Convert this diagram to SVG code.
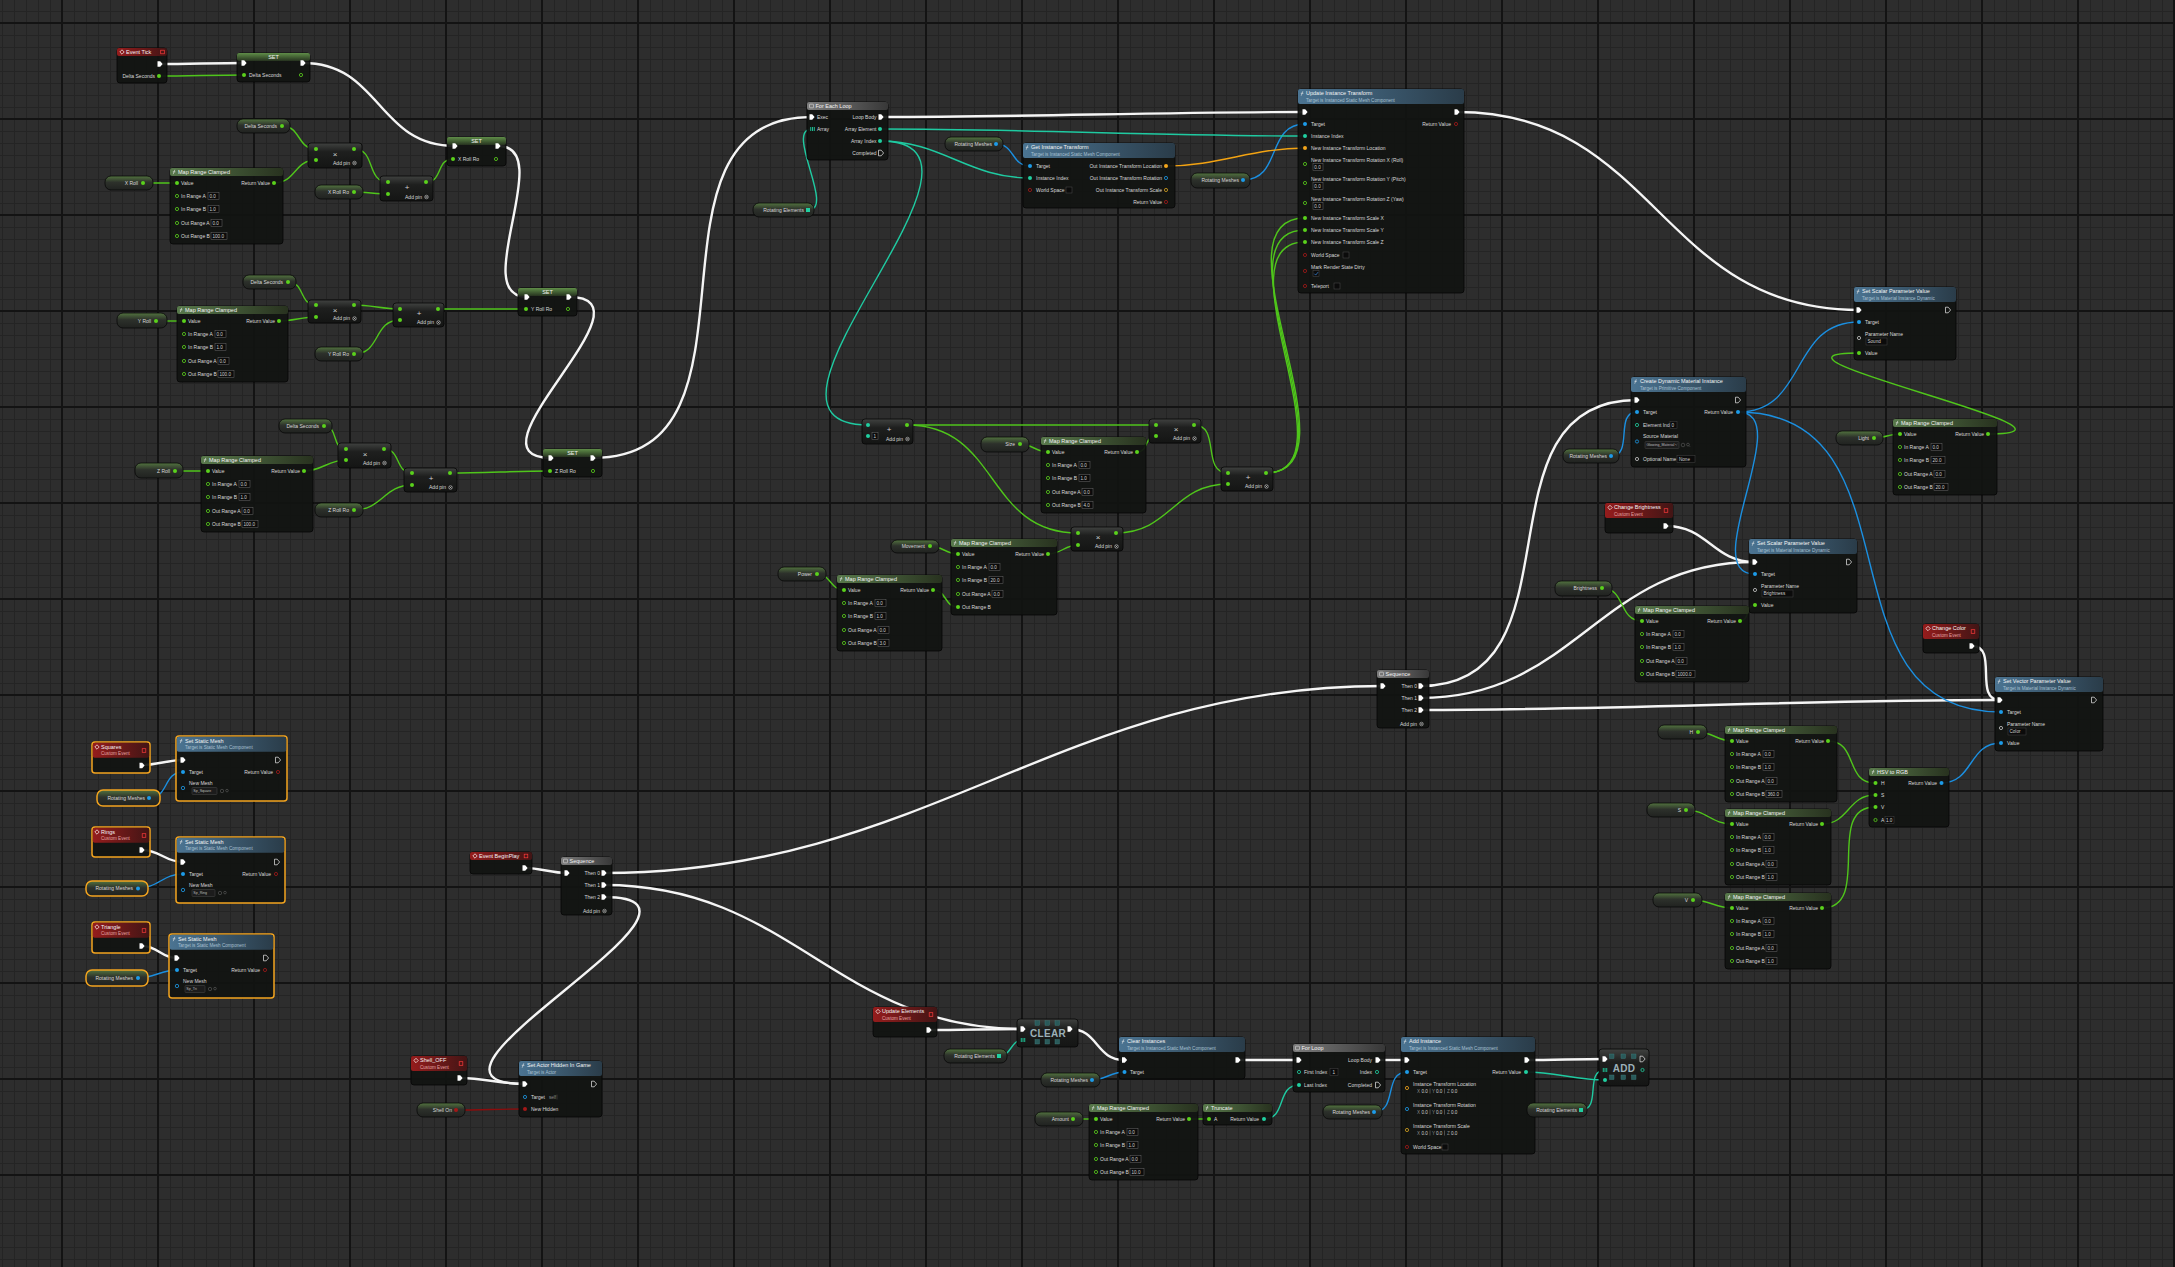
<svg xmlns="http://www.w3.org/2000/svg" width="2175" height="1267" viewBox="0 0 2175 1267">
<defs>
<style>
text{font-family:"Liberation Sans",Arial,sans-serif;font-size:5px;fill:#d9d9d9}
.h{font-size:5.5px;fill:#f4f4f4}
.sb{font-size:4.6px;fill:#a7c0d2}
.sr{font-size:4.6px;fill:#e3a3a3}
.e{text-anchor:end}
.m{text-anchor:middle}
.op{font-size:8px;fill:#cfcfcf;text-anchor:middle}
.big{font-size:10px;font-weight:bold;fill:#9cb0b8;text-anchor:middle;letter-spacing:.3px}
.v{font-size:4.6px;fill:#cfcfcf}
.vs{font-size:3.6px;fill:#bdbdbd}
.g{font-size:4.6px;fill:#8c8c8c}
.nb{fill:#111311;fill-opacity:.93;stroke:#050505;stroke-width:.8}
.cn{fill:url(#gc);stroke:#050505;stroke-width:.8}
.gt{fill:url(#gg);stroke:#070707;stroke-width:.8}
.sel{stroke:#f3a41f;stroke-width:1.5}
.vb{fill:#0b0b0b;stroke:#6a6a6a;stroke-width:.5}
.cb{fill:#0b0b0b;stroke:#4e4e4e;stroke-width:.5}
.dd{fill:#1c1c1c;stroke:#4a4a4a;stroke-width:.5}
.ic{fill:none;stroke:#6a6a6a;stroke-width:.5}
.pg{fill:#5ad11c}
.pgo{fill:none;stroke:#5ad11c;stroke-width:.8}
.pt{fill:#20cfa0}
.pto{fill:none;stroke:#20cfa0;stroke-width:.8}
.pb{fill:#1d9be8}
.pbo{fill:none;stroke:#1d9be8;stroke-width:.8}
.po{fill:#f2a51c}
.pyo{fill:none;stroke:#d9a521;stroke-width:.8}
.pr{fill:#a31818}
.pro{fill:none;stroke:#a31818;stroke-width:.8}
.pn{fill:none;stroke:#c8c8c8;stroke-width:.8}
.pw{fill:#fff}
.pwo{fill:none;stroke:#eee;stroke-width:.7}
.w{fill:none;stroke-width:1.4}
.we{stroke:#f5f5f5;stroke-width:2.4}
.wg{stroke:#4fc51b}
.wt{stroke:#1fcaa1}
.wb{stroke:#1b8fe0}
.wo{stroke:#f3a312}
.wr{stroke:#8c0c0c}
</style>
<pattern id="gm" width="12" height="12" patternUnits="userSpaceOnUse" x="2" y="11"><path d="M0 .5H12M.5 0V12" stroke="#242424" stroke-width="1" fill="none"/></pattern>
<pattern id="gM" width="96" height="96" patternUnits="userSpaceOnUse" x="61" y="22"><path d="M0 1H96M1 0V96" stroke="#131313" stroke-width="2" fill="none"/></pattern>
<linearGradient id="hg" x1="0" x2="1"><stop offset="0" stop-color="#58794b"/><stop offset="1" stop-color="#28321f"/></linearGradient>
<linearGradient id="hb" x1="0" x2="1"><stop offset="0" stop-color="#4b7492"/><stop offset="1" stop-color="#2a3c49"/></linearGradient>
<linearGradient id="hr" x1="0" x2="1"><stop offset="0" stop-color="#951c1c"/><stop offset="1" stop-color="#421515"/></linearGradient>
<linearGradient id="hk" x1="0" x2="1"><stop offset="0" stop-color="#7c7c7c"/><stop offset="1" stop-color="#383838"/></linearGradient>
<linearGradient id="hs" x1="0" y1="0" x2="0" y2="1"><stop offset="0" stop-color="#5f8d48"/><stop offset="1" stop-color="#26321f"/></linearGradient>
<linearGradient id="gc" x1="0" y1="0" x2="0" y2="1"><stop offset="0" stop-color="#404240"/><stop offset=".35" stop-color="#1e1f1e"/><stop offset="1" stop-color="#141514"/></linearGradient>
<linearGradient id="gg" x1="0" y1="0" x2="0" y2="1"><stop offset="0" stop-color="#52733f"/><stop offset=".45" stop-color="#2d312b"/><stop offset="1" stop-color="#202220"/></linearGradient>
<path id="x" d="M-2.5-2.8H.2L2.6 0 .2 2.8H-2.5Z"/>
<path id="fi" d="M-.8 2.2L.8-2.2M-1.2-.2H1.4" stroke="#e8e8e8" stroke-width=".6" fill="none"/>
<path id="ei" d="M0-2.2L2.2 0 0 2.2-2.2 0Z" fill="none" stroke="#fff" stroke-width=".7"/>
<rect id="rsq" x="-1.8" y="-1.8" width="3.6" height="3.6" fill="none" stroke="#ff3b3b" stroke-width=".7"/>
<g id="ap"><circle r="1.8" fill="none" stroke="#ddd" stroke-width=".5"/><path d="M-1-1L1 1M1-1L-1 1" stroke="#ddd" stroke-width=".5"/></g>
<g id="arr" fill="#20cfa0"><rect x="-2.2" y="-2" width=".9" height="4"/><rect x="-.45" y="-2" width=".9" height="4"/><rect x="1.3" y="-2" width=".9" height="4"/></g>
<rect id="sq" x="-2" y="-2" width="4" height="4" fill="#20cfa0"/>
<rect id="lp" x="-2" y="-1.8" width="4" height="3.6" rx=".6" fill="none" stroke="#eee" stroke-width=".5"/>
<g id="tsq" fill="#2a5a5a" stroke="#3f7f7f" stroke-width=".4"><rect width="4.5" height="4.5"/></g>
</defs>

<rect width="2175" height="1267" fill="#2d2d2d"/>
<rect width="2175" height="1267" fill="url(#gm)"/>
<rect width="2175" height="1267" fill="url(#gM)"/>

<g id="connectors">
<path class="w we" d="M160 64C188 64 216 63 244 63"/>
<path class="w we" d="M303 63C381 63 377 146 455 146"/>
<path class="w we" d="M498 146C558 146 467 297 527 297"/>
<path class="w we" d="M569 297C662 297 458 458 551 458"/>
<path class="w we" d="M593 458C780 458 625 117 812 117"/>
<path class="w we" d="M881 117C1024 117 1162 112 1305 112"/>
<path class="w we" d="M1457 112C1657 112 1659 310 1859 310"/>
<path class="w we" d="M1420 686C1588 686 1469 400 1637 400"/>
<path class="w we" d="M1420 698C1577 698 1598 562 1755 562"/>
<path class="w we" d="M1420 710C1617 710 1803 700 2000 700"/>
<path class="w we" d="M1666 526C1708 526 1713 562 1755 562"/>
<path class="w we" d="M1972 646C1999 646 1973 700 2000 700"/>
<path class="w we" d="M525 868C541 868 551 873 567 873"/>
<path class="w we" d="M604 873C926 873 1061 686 1383 686"/>
<path class="w we" d="M604 885C792 885 835 1029 1023 1029"/>
<path class="w we" d="M929 1030C961 1030 991 1029 1023 1029"/>
<path class="w we" d="M604 897C753 897 376 1084 525 1084"/>
<path class="w we" d="M460 1078C484 1078 501 1084 525 1084"/>
<path class="w we" d="M142 765C157 765 168 760 183 760"/>
<path class="w we" d="M142 850C160 850 165 862 183 862"/>
<path class="w we" d="M142 946C158 946 161 958 177 958"/>
<path class="w we" d="M1070 1029C1098 1029 1096 1060 1124 1060"/>
<path class="w we" d="M1238 1060L1299 1060"/>
<path class="w we" d="M1378 1060L1407 1060"/>
<path class="w we" d="M1527 1060C1553 1060 1579 1059 1605 1059"/>

<path class="w wg" d="M159 76C188 76 215 75 244 75"/>
<path class="w wg" d="M282 126C301 126 297 149 316 149"/>
<path class="w wg" d="M274 183C296 183 294 160 316 160"/>
<path class="w wg" d="M143 183L177 183"/>
<path class="w wg" d="M354 149C376 149 366 182 388 182"/>
<path class="w wg" d="M354 192C366 192 376 194 388 194"/>
<path class="w wg" d="M426 182C443 182 436 159 453 159"/>
<path class="w wg" d="M288 282C305 282 299 305 316 305"/>
<path class="w wg" d="M279 321C293 321 302 317 316 317"/>
<path class="w wg" d="M156 321L184 321"/>
<path class="w wg" d="M354 305C371 305 383 309 400 309"/>
<path class="w wg" d="M354 354C381 354 373 320 400 320"/>
<path class="w wg" d="M438 309L526 309"/>
<path class="w wg" d="M324 426C339 426 331 449 346 449"/>
<path class="w wg" d="M304 471C322 471 328 460 346 460"/>
<path class="w wg" d="M175 471L208 471"/>
<path class="w wg" d="M384 449C401 449 395 473 412 473"/>
<path class="w wg" d="M354 510C382 510 384 485 412 485"/>
<path class="w wg" d="M450 473C484 473 516 471 550 471"/>
<path class="w wg" d="M907 425L1156 425"/>
<path class="w wg" d="M907 425C1000 425 985 533 1078 533"/>
<path class="w wg" d="M1020 444C1032 444 1036 452 1048 452"/>
<path class="w wg" d="M1137 452C1149 452 1144 436 1156 436"/>
<path class="w wg" d="M1194 425C1221 425 1201 473 1228 473"/>
<path class="w wg" d="M1116 533C1170 533 1174 484 1228 484"/>
<path class="w wg" d="M930 546C942 546 946 554 958 554"/>
<path class="w wg" d="M1048 554C1061 554 1065 545 1078 545"/>
<path class="w wg" d="M933 590C947 590 944 607 958 607"/>
<path class="w wg" d="M817 574C831 574 830 590 844 590"/>
<path class="w wg" d="M1266 473C1364 473 1207 218 1305 218"/>
<path class="w wg" d="M1266 473C1360 473 1211 230 1305 230"/>
<path class="w wg" d="M1266 473C1356 473 1215 242 1305 242"/>
<path class="w wg" d="M1874 438C1884 438 1890 434 1900 434"/>
<path class="w wg" d="M1988 434C2119 434 1728 353 1859 353"/>
<path class="w wg" d="M1602 588C1626 588 1618 621 1642 621"/>
<path class="w wg" d="M1740 621C1750 621 1745 605 1755 605"/>
<path class="w wg" d="M1698 732C1712 732 1718 741 1732 741"/>
<path class="w wg" d="M1828 741C1858 741 1845 783 1875 783"/>
<path class="w wg" d="M1686 810C1706 810 1712 824 1732 824"/>
<path class="w wg" d="M1822 824C1849 824 1848 795 1875 795"/>
<path class="w wg" d="M1693 900C1709 900 1716 908 1732 908"/>
<path class="w wg" d="M1822 908C1873 908 1824 807 1875 807"/>
<path class="w wg" d="M1073 1119L1096 1119"/>
<path class="w wg" d="M1189 1119L1209 1119"/>

<path class="w wb" d="M1611 456C1634 456 1614 412 1637 412"/>
<path class="w wb" d="M1738 412C1808 412 1789 322 1859 322"/>
<path class="w wb" d="M1738 412C1798 412 1695 574 1755 574"/>
<path class="w wb" d="M1738 412C1926 412 1813 712 2001 712"/>
<path class="w wb" d="M1941 783C1974 783 1968 743 2001 743"/>
<path class="w wb" d="M149 798C169 798 163 772 183 772"/>
<path class="w wb" d="M138 888C158 888 163 874 183 874"/>
<path class="w wb" d="M138 978C154 978 161 970 177 970"/>
<path class="w wb" d="M1092 1080C1105 1080 1111 1072 1124 1072"/>
<path class="w wb" d="M1374 1112C1398 1112 1383 1072 1407 1072"/>
<path class="w wb" d="M996 144C1015 144 1011 166 1030 166"/>
<path class="w wb" d="M1243 180C1282 180 1266 124 1305 124"/>

<path class="w wt" d="M808 210C836 210 784 129 812 129"/>
<path class="w wt" d="M880 129C1024 129 1161 136 1305 136"/>
<path class="w wt" d="M880 141C942 141 968 178 1030 178"/>
<path class="w wt" d="M880 141C1030 141 718 425 868 425"/>
<path class="w wt" d="M999 1056C1012 1056 1010 1040 1023 1040"/>
<path class="w wt" d="M1264 1119C1287 1119 1276 1085 1299 1085"/>
<path class="w wt" d="M1526 1072C1555 1072 1576 1080 1605 1080"/>
<path class="w wt" d="M1581 1110C1602 1110 1584 1070 1605 1070"/>

<path class="w wo" d="M1166 166C1218 166 1253 148 1305 148"/>
<path class="w wr" d="M456 1110C479 1110 502 1109 525 1109"/>
</g>

<!-- ===== Tick / roll section ===== -->
<g id="event-tick" transform="translate(117 48)">
<rect class="nb" width="50" height="35" rx="3"/>
<rect width="50" height="8" rx="2" fill="url(#hr)"/>
<use href="#ei" x="5" y="4"/>
<text class="h" x="9" y="6">Event Tick</text>
<use href="#rsq" x="45.5" y="4"/>
<use href="#x" x="43" y="16" class="pw"/>
<text class="e" x="38" y="29.7">Delta Seconds</text>
<circle class="pg" cx="42" cy="28" r="2"/>
</g>

<g id="set-delta-seconds" transform="translate(237 53)">
<rect class="nb" width="73" height="29" rx="3"/>
<rect width="73" height="8" rx="2" fill="url(#hs)"/>
<text class="h m" x="36.5" y="6">SET</text>
<use href="#x" x="7" y="10" class="pw"/><use href="#x" x="66" y="10" class="pw"/>
<circle class="pg" cx="7" cy="22" r="2"/><text x="12" y="23.7">Delta Seconds</text><circle class="pgo" cx="64" cy="22" r="1.6"/>
</g>

<g id="get-delta-seconds-1" transform="translate(237 119)"><rect class="gt" width="53" height="14" rx="6"/><text class="e" x="40" y="8.7">Delta Seconds</text><circle class="pg" cx="45" cy="7" r="2"/></g>
<g id="get-x-roll" transform="translate(105 176)"><rect class="gt" width="48" height="14" rx="6"/><text class="e" x="33" y="8.7">X Roll</text><circle class="pg" cx="38" cy="7" r="2"/></g>
<g id="get-x-roll-ro" transform="translate(315 185)"><rect class="gt" width="48" height="14" rx="6"/><text class="e" x="34" y="8.7">X Roll Ro</text><circle class="pg" cx="39" cy="7" r="2"/></g>

<g id="maprange-x" transform="translate(170 168)">
<rect class="nb" width="113" height="76" rx="3"/><rect width="113" height="8" rx="2" fill="url(#hg)"/>
<use href="#fi" x="4" y="4"/><text class="h" x="8" y="6">Map Range Clamped</text>
<circle class="pg" cx="7" cy="15" r="2"/><text x="11" y="16.7">Value</text>
<text class="e" x="100" y="16.7">Return Value</text><circle class="pg" cx="104" cy="15" r="2"/>
<circle class="pgo" cx="7" cy="28" r="1.6"/><text x="11" y="29.7">In Range A</text><rect class="vb" x="38" y="24.5" width="11" height="7"/><text class="v" x="39.5" y="29.7">0.0</text>
<circle class="pgo" cx="7" cy="41" r="1.6"/><text x="11" y="42.7">In Range B</text><rect class="vb" x="38" y="37.5" width="11" height="7"/><text class="v" x="39.5" y="42.7">1.0</text>
<circle class="pgo" cx="7" cy="55" r="1.6"/><text x="11" y="56.7">Out Range A</text><rect class="vb" x="41" y="51.5" width="11" height="7"/><text class="v" x="42.5" y="56.7">0.0</text>
<circle class="pgo" cx="7" cy="68" r="1.6"/><text x="11" y="69.7">Out Range B</text><rect class="vb" x="41" y="64.5" width="16" height="7"/><text class="v" x="42.5" y="69.7">100.0</text>
</g>

<g id="multiply-x" transform="translate(308 143)"><rect class="cn" width="54" height="25" rx="3"/><circle class="pg" cx="8" cy="6" r="2"/><circle class="pg" cx="8" cy="17" r="2"/><circle class="pg" cx="46" cy="6" r="2"/><text class="op" x="27" y="13.5">×</text><text class="e" x="42" y="21.7">Add pin</text><use href="#ap" x="46.5" y="20"/></g>
<g id="add-x" transform="translate(380 176)"><rect class="cn" width="53" height="25" rx="3"/><circle class="pg" cx="8" cy="6" r="2"/><circle class="pg" cx="8" cy="18" r="2"/><circle class="pg" cx="46" cy="6" r="2"/><text class="op" x="27" y="13.5">+</text><text class="e" x="42" y="22.7">Add pin</text><use href="#ap" x="46.5" y="21"/></g>

<g id="set-x-roll-ro" transform="translate(447 137)">
<rect class="nb" width="59" height="29" rx="3"/><rect width="59" height="8" rx="2" fill="url(#hs)"/>
<text class="h m" x="29.5" y="6">SET</text>
<use href="#x" x="8" y="9" class="pw"/><use href="#x" x="51" y="9" class="pw"/>
<circle class="pg" cx="6" cy="22" r="2"/><text x="11" y="23.7">X Roll Ro</text><circle class="pgo" cx="49" cy="22" r="1.6"/>
</g>

<g id="get-delta-seconds-2" transform="translate(243 275)"><rect class="gt" width="53" height="14" rx="6"/><text class="e" x="40" y="8.7">Delta Seconds</text><circle class="pg" cx="45" cy="7" r="2"/></g>
<g id="get-y-roll" transform="translate(117 313)"><rect class="gt" width="50" height="15" rx="6"/><text class="e" x="34" y="9.7">Y Roll</text><circle class="pg" cx="39" cy="8" r="2"/></g>
<g id="get-y-roll-ro" transform="translate(315 347)"><rect class="gt" width="48" height="14" rx="6"/><text class="e" x="34" y="8.7">Y Roll Ro</text><circle class="pg" cx="39" cy="7" r="2"/></g>

<g id="maprange-y" transform="translate(177 306)">
<rect class="nb" width="111" height="76" rx="3"/><rect width="111" height="8" rx="2" fill="url(#hg)"/>
<use href="#fi" x="4" y="4"/><text class="h" x="8" y="6">Map Range Clamped</text>
<circle class="pg" cx="7" cy="15" r="2"/><text x="11" y="16.7">Value</text>
<text class="e" x="98" y="16.7">Return Value</text><circle class="pg" cx="102" cy="15" r="2"/>
<circle class="pgo" cx="7" cy="28" r="1.6"/><text x="11" y="29.7">In Range A</text><rect class="vb" x="38" y="24.5" width="11" height="7"/><text class="v" x="39.5" y="29.7">0.0</text>
<circle class="pgo" cx="7" cy="41" r="1.6"/><text x="11" y="42.7">In Range B</text><rect class="vb" x="38" y="37.5" width="11" height="7"/><text class="v" x="39.5" y="42.7">1.0</text>
<circle class="pgo" cx="7" cy="55" r="1.6"/><text x="11" y="56.7">Out Range A</text><rect class="vb" x="41" y="51.5" width="11" height="7"/><text class="v" x="42.5" y="56.7">0.0</text>
<circle class="pgo" cx="7" cy="68" r="1.6"/><text x="11" y="69.7">Out Range B</text><rect class="vb" x="41" y="64.5" width="16" height="7"/><text class="v" x="42.5" y="69.7">100.0</text>
</g>

<g id="multiply-y" transform="translate(308 300)"><rect class="cn" width="53" height="23" rx="3"/><circle class="pg" cx="8" cy="5" r="2"/><circle class="pg" cx="8" cy="17" r="2"/><circle class="pg" cx="46" cy="5" r="2"/><text class="op" x="27" y="12.5">×</text><text class="e" x="42" y="20.2">Add pin</text><use href="#ap" x="46.5" y="18.5"/></g>
<g id="add-y" transform="translate(393 303)"><rect class="cn" width="51" height="24" rx="3"/><circle class="pg" cx="7" cy="6" r="2"/><circle class="pg" cx="7" cy="17" r="2"/><circle class="pg" cx="45" cy="6" r="2"/><text class="op" x="26" y="13">+</text><text class="e" x="41" y="21.2">Add pin</text><use href="#ap" x="45.5" y="19.5"/></g>

<g id="set-y-roll-ro" transform="translate(518 288)">
<rect class="nb" width="59" height="28" rx="3"/><rect width="59" height="8" rx="2" fill="url(#hs)"/>
<text class="h m" x="29.5" y="6">SET</text>
<use href="#x" x="9" y="9" class="pw"/><use href="#x" x="51" y="9" class="pw"/>
<circle class="pg" cx="8" cy="21" r="2"/><text x="13" y="22.7">Y Roll Ro</text><circle class="pgo" cx="50" cy="21" r="1.6"/>
</g>

<g id="get-delta-seconds-3" transform="translate(279 419)"><rect class="gt" width="53" height="14" rx="6"/><text class="e" x="40" y="8.7">Delta Seconds</text><circle class="pg" cx="45" cy="7" r="2"/></g>
<g id="get-z-roll" transform="translate(135 463)"><rect class="gt" width="48" height="15" rx="6"/><text class="e" x="35" y="9.7">Z Roll</text><circle class="pg" cx="40" cy="8" r="2"/></g>
<g id="get-z-roll-ro" transform="translate(315 503)"><rect class="gt" width="48" height="14" rx="6"/><text class="e" x="34" y="8.7">Z Roll Ro</text><circle class="pg" cx="39" cy="7" r="2"/></g>

<g id="maprange-z" transform="translate(201 456)">
<rect class="nb" width="112" height="76" rx="3"/><rect width="112" height="8" rx="2" fill="url(#hg)"/>
<use href="#fi" x="4" y="4"/><text class="h" x="8" y="6">Map Range Clamped</text>
<circle class="pg" cx="7" cy="15" r="2"/><text x="11" y="16.7">Value</text>
<text class="e" x="99" y="16.7">Return Value</text><circle class="pg" cx="103" cy="15" r="2"/>
<circle class="pgo" cx="7" cy="28" r="1.6"/><text x="11" y="29.7">In Range A</text><rect class="vb" x="38" y="24.5" width="11" height="7"/><text class="v" x="39.5" y="29.7">0.0</text>
<circle class="pgo" cx="7" cy="41" r="1.6"/><text x="11" y="42.7">In Range B</text><rect class="vb" x="38" y="37.5" width="11" height="7"/><text class="v" x="39.5" y="42.7">1.0</text>
<circle class="pgo" cx="7" cy="55" r="1.6"/><text x="11" y="56.7">Out Range A</text><rect class="vb" x="41" y="51.5" width="11" height="7"/><text class="v" x="42.5" y="56.7">0.0</text>
<circle class="pgo" cx="7" cy="68" r="1.6"/><text x="11" y="69.7">Out Range B</text><rect class="vb" x="41" y="64.5" width="16" height="7"/><text class="v" x="42.5" y="69.7">100.0</text>
</g>

<g id="multiply-z" transform="translate(338 443)"><rect class="cn" width="53" height="25" rx="3"/><circle class="pg" cx="8" cy="6" r="2"/><circle class="pg" cx="8" cy="17" r="2"/><circle class="pg" cx="46" cy="6" r="2"/><text class="op" x="27" y="13.5">×</text><text class="e" x="42" y="21.7">Add pin</text><use href="#ap" x="46.5" y="20"/></g>
<g id="add-z" transform="translate(404 468)"><rect class="cn" width="53" height="24" rx="3"/><circle class="pg" cx="8" cy="5" r="2"/><circle class="pg" cx="8" cy="17" r="2"/><circle class="pg" cx="46" cy="5" r="2"/><text class="op" x="27" y="12.5">+</text><text class="e" x="42" y="21.2">Add pin</text><use href="#ap" x="46.5" y="19.5"/></g>

<g id="set-z-roll-ro" transform="translate(543 449)">
<rect class="nb" width="59" height="28" rx="3"/><rect width="59" height="8" rx="2" fill="url(#hs)"/>
<text class="h m" x="29.5" y="6">SET</text>
<use href="#x" x="8" y="9" class="pw"/><use href="#x" x="50" y="9" class="pw"/>
<circle class="pg" cx="7" cy="22" r="2"/><text x="12" y="23.7">Z Roll Ro</text><circle class="pgo" cx="50" cy="22" r="1.6"/>
</g>

<!-- ===== For Each / transform section ===== -->
<g id="for-each-loop" transform="translate(807 102)">
<rect class="nb" width="81" height="58" rx="3"/><rect width="81" height="8" rx="2" fill="url(#hk)"/>
<use href="#lp" x="4.5" y="4"/><text class="h" x="8.5" y="6">For Each Loop</text>
<use href="#x" x="5" y="15" class="pw"/><text x="10" y="16.7">Exec</text>
<text class="e" x="69.5" y="16.7">Loop Body</text><use href="#x" x="74" y="15" class="pw"/>
<use href="#arr" x="5.5" y="27"/><text x="10" y="28.7">Array</text>
<text class="e" x="69.5" y="28.7">Array Element</text><circle class="pt" cx="73" cy="27" r="2"/>
<text class="e" x="69.5" y="40.7">Array Index</text><circle class="pt" cx="73" cy="39" r="2"/>
<text class="e" x="69.5" y="52.7">Completed</text><use href="#x" x="74" y="51" class="pwo"/>
</g>
<g id="get-rotating-elements-1" transform="translate(753 203)"><rect class="gt" width="61" height="14" rx="6"/><text class="e" x="51" y="8.7">Rotating Elements</text><use href="#sq" x="55" y="7"/></g>
<g id="get-rotating-meshes-1" transform="translate(945 137)"><rect class="gt" width="58" height="14" rx="6"/><text class="e" x="47" y="8.7">Rotating Meshes</text><circle class="pb" cx="51" cy="7" r="2"/></g>

<g id="get-instance-transform" transform="translate(1023 143)">
<rect class="nb" width="152" height="65" rx="3"/><rect width="152" height="15" rx="2" fill="url(#hb)"/>
<use href="#fi" x="4" y="4.5"/><text class="h" x="8" y="6">Get Instance Transform</text>
<text class="sb" x="8" y="12.8">Target is Instanced Static Mesh Component</text>
<circle class="pb" cx="7" cy="23" r="2"/><text x="13" y="24.7">Target</text>
<circle class="pt" cx="7" cy="35" r="2"/><text x="13" y="36.7">Instance Index</text>
<circle class="pro" cx="7" cy="47" r="1.6"/><text x="13" y="48.7">World Space</text><rect class="cb" x="43" y="44" width="6" height="6"/>
<text class="e" x="139" y="24.7">Out Instance Transform Location</text><circle class="po" cx="143" cy="23" r="2"/>
<text class="e" x="139" y="36.7">Out Instance Transform Rotation</text><circle class="pbo" cx="143" cy="35" r="1.6"/>
<text class="e" x="139" y="48.7">Out Instance Transform Scale</text><circle class="pyo" cx="143" cy="47" r="1.6"/>
<text class="e" x="139" y="60.7">Return Value</text><circle class="pro" cx="143" cy="59" r="1.6"/>
</g>
<g id="get-rotating-meshes-2" transform="translate(1191 173)"><rect class="gt" width="59" height="15" rx="6"/><text class="e" x="48" y="8.7">Rotating Meshes</text><circle class="pb" cx="52" cy="7" r="2"/></g>

<g id="update-instance-transform" transform="translate(1298 89)">
<rect class="nb" width="166" height="204" rx="3"/><rect width="166" height="15" rx="2" fill="url(#hb)"/>
<use href="#fi" x="4" y="4.5"/><text class="h" x="8" y="6">Update Instance Transform</text>
<text class="sb" x="8" y="12.8">Target is Instanced Static Mesh Component</text>
<use href="#x" x="7" y="23" class="pw"/><use href="#x" x="159" y="23" class="pw"/>
<circle class="pb" cx="7" cy="35" r="2"/><text x="13" y="36.7">Target</text>
<text class="e" x="153" y="36.7">Return Value</text><circle class="pro" cx="158" cy="35" r="1.6"/>
<circle class="pt" cx="7" cy="47" r="2"/><text x="13" y="48.7">Instance Index</text>
<circle class="po" cx="7" cy="59" r="2"/><text x="13" y="60.7">New Instance Transform Location</text>
<circle class="pgo" cx="7" cy="75" r="1.6"/><text x="13" y="72.7">New Instance Transform Rotation X (Roll)</text><rect class="vb" x="15" y="74.5" width="10" height="7"/><text class="v" x="16.3" y="79.7">0.0</text>
<circle class="pgo" cx="7" cy="94" r="1.6"/><text x="13" y="91.7">New Instance Transform Rotation Y (Pitch)</text><rect class="vb" x="15" y="93.5" width="10" height="7"/><text class="v" x="16.3" y="98.7">0.0</text>
<circle class="pgo" cx="7" cy="114" r="1.6"/><text x="13" y="111.7">New Instance Transform Rotation Z (Yaw)</text><rect class="vb" x="15" y="113.5" width="10" height="7"/><text class="v" x="16.3" y="118.7">0.0</text>
<circle class="pg" cx="7" cy="129" r="2"/><text x="13" y="130.7">New Instance Transform Scale X</text>
<circle class="pg" cx="7" cy="141" r="2"/><text x="13" y="142.7">New Instance Transform Scale Y</text>
<circle class="pg" cx="7" cy="153" r="2"/><text x="13" y="154.7">New Instance Transform Scale Z</text>
<circle class="pro" cx="7" cy="166" r="1.6"/><text x="13" y="167.7">World Space</text><rect class="cb" x="45" y="163" width="6" height="6"/>
<circle class="pro" cx="7" cy="182" r="1.6"/><text x="13" y="179.7">Mark Render State Dirty</text><rect class="cb" x="15" y="181.5" width="6" height="6"/><path d="M16.3 184.7l1.4 1.4 2.4-3" fill="none" stroke="#3a8ee6" stroke-width=".7"/>
<circle class="pro" cx="7" cy="197" r="1.6"/><text x="13" y="198.7">Teleport</text><rect class="cb" x="36" y="194" width="6" height="6"/>
</g>

<!-- ===== middle math ===== -->
<g id="add-index" transform="translate(862 419)"><rect class="cn" width="51" height="25" rx="3"/><circle class="pt" cx="6" cy="6" r="2"/><circle class="pt" cx="6" cy="17" r="2"/><rect class="vb" x="10" y="13.5" width="6" height="7"/><text class="v" x="11.6" y="18.7">1</text><circle class="pg" cx="45" cy="6" r="2"/><text class="op" x="27" y="12.5">+</text><text class="e" x="41" y="21.7">Add pin</text><use href="#ap" x="45.5" y="20"/></g>
<g id="multiply-size" transform="translate(1149 419)"><rect class="cn" width="52" height="24" rx="3"/><circle class="pg" cx="7" cy="6" r="2"/><circle class="pg" cx="7" cy="17" r="2"/><circle class="pg" cx="45" cy="6" r="2"/><text class="op" x="27" y="13">×</text><text class="e" x="41" y="21.2">Add pin</text><use href="#ap" x="45.5" y="19.5"/></g>
<g id="get-size" transform="translate(981 437)"><rect class="gt" width="48" height="15" rx="6"/><text class="e" x="34" y="8.7">Size</text><circle class="pg" cx="39" cy="7" r="2"/></g>
<g id="maprange-size" transform="translate(1041 437)">
<rect class="nb" width="105" height="76" rx="3"/><rect width="105" height="8" rx="2" fill="url(#hg)"/>
<use href="#fi" x="4" y="4"/><text class="h" x="8" y="6">Map Range Clamped</text>
<circle class="pg" cx="7" cy="15" r="2"/><text x="11" y="16.7">Value</text>
<text class="e" x="92" y="16.7">Return Value</text><circle class="pg" cx="96" cy="15" r="2"/>
<circle class="pgo" cx="7" cy="28" r="1.6"/><text x="11" y="29.7">In Range A</text><rect class="vb" x="38" y="24.5" width="11" height="7"/><text class="v" x="39.5" y="29.7">0.0</text>
<circle class="pgo" cx="7" cy="41" r="1.6"/><text x="11" y="42.7">In Range B</text><rect class="vb" x="38" y="37.5" width="11" height="7"/><text class="v" x="39.5" y="42.7">1.0</text>
<circle class="pgo" cx="7" cy="55" r="1.6"/><text x="11" y="56.7">Out Range A</text><rect class="vb" x="41" y="51.5" width="11" height="7"/><text class="v" x="42.5" y="56.7">0.0</text>
<circle class="pgo" cx="7" cy="68" r="1.6"/><text x="11" y="69.7">Out Range B</text><rect class="vb" x="41" y="64.5" width="11" height="7"/><text class="v" x="42.5" y="69.7">4.0</text>
</g>
<g id="add-scale" transform="translate(1221 467)"><rect class="cn" width="52" height="24" rx="3"/><circle class="pg" cx="7" cy="6" r="2"/><circle class="pg" cx="7" cy="17" r="2"/><circle class="pg" cx="45" cy="6" r="2"/><text class="op" x="27" y="13">+</text><text class="e" x="41" y="21.2">Add pin</text><use href="#ap" x="45.5" y="19.5"/></g>
<g id="multiply-movement" transform="translate(1071 527)"><rect class="cn" width="52" height="24" rx="3"/><circle class="pg" cx="7" cy="6" r="2"/><circle class="pg" cx="7" cy="18" r="2"/><circle class="pg" cx="45" cy="6" r="2"/><text class="op" x="27" y="13">×</text><text class="e" x="41" y="21.2">Add pin</text><use href="#ap" x="45.5" y="19.5"/></g>
<g id="get-movement" transform="translate(891 540)"><rect class="gt" width="48" height="13" rx="6"/><text class="e" x="34" y="7.7">Movement</text><circle class="pg" cx="39" cy="6" r="2"/></g>
<g id="maprange-movement" transform="translate(951 539)">
<rect class="nb" width="106" height="76" rx="3"/><rect width="106" height="8" rx="2" fill="url(#hg)"/>
<use href="#fi" x="4" y="4"/><text class="h" x="8" y="6">Map Range Clamped</text>
<circle class="pg" cx="7" cy="15" r="2"/><text x="11" y="16.7">Value</text>
<text class="e" x="93" y="16.7">Return Value</text><circle class="pg" cx="97" cy="15" r="2"/>
<circle class="pgo" cx="7" cy="28" r="1.6"/><text x="11" y="29.7">In Range A</text><rect class="vb" x="38" y="24.5" width="11" height="7"/><text class="v" x="39.5" y="29.7">0.0</text>
<circle class="pgo" cx="7" cy="41" r="1.6"/><text x="11" y="42.7">In Range B</text><rect class="vb" x="38" y="37.5" width="14" height="7"/><text class="v" x="39.5" y="42.7">20.0</text>
<circle class="pgo" cx="7" cy="55" r="1.6"/><text x="11" y="56.7">Out Range A</text><rect class="vb" x="41" y="51.5" width="11" height="7"/><text class="v" x="42.5" y="56.7">0.0</text>
<circle class="pg" cx="7" cy="68" r="2"/><text x="11" y="69.7">Out Range B</text>
</g>
<g id="get-power" transform="translate(778 567)"><rect class="gt" width="48" height="14" rx="6"/><text class="e" x="34" y="8.7">Power</text><circle class="pg" cx="39" cy="7" r="2"/></g>
<g id="maprange-power" transform="translate(837 575)">
<rect class="nb" width="105" height="76" rx="3"/><rect width="105" height="8" rx="2" fill="url(#hg)"/>
<use href="#fi" x="4" y="4"/><text class="h" x="8" y="6">Map Range Clamped</text>
<circle class="pg" cx="7" cy="15" r="2"/><text x="11" y="16.7">Value</text>
<text class="e" x="92" y="16.7">Return Value</text><circle class="pg" cx="96" cy="15" r="2"/>
<circle class="pgo" cx="7" cy="28" r="1.6"/><text x="11" y="29.7">In Range A</text><rect class="vb" x="38" y="24.5" width="11" height="7"/><text class="v" x="39.5" y="29.7">0.0</text>
<circle class="pgo" cx="7" cy="41" r="1.6"/><text x="11" y="42.7">In Range B</text><rect class="vb" x="38" y="37.5" width="11" height="7"/><text class="v" x="39.5" y="42.7">1.0</text>
<circle class="pgo" cx="7" cy="55" r="1.6"/><text x="11" y="56.7">Out Range A</text><rect class="vb" x="41" y="51.5" width="11" height="7"/><text class="v" x="42.5" y="56.7">0.0</text>
<circle class="pgo" cx="7" cy="68" r="1.6"/><text x="11" y="69.7">Out Range B</text><rect class="vb" x="41" y="64.5" width="11" height="7"/><text class="v" x="42.5" y="69.7">3.0</text>
</g>

<!-- ===== material section ===== -->
<g id="set-scalar-sound" transform="translate(1854 287)">
<rect class="nb" width="102" height="73" rx="3"/><rect width="102" height="15" rx="2" fill="url(#hb)"/>
<use href="#fi" x="4" y="4.5"/><text class="h" x="8" y="6">Set Scalar Parameter Value</text>
<text class="sb" x="8" y="12.8">Target is Material Instance Dynamic</text>
<use href="#x" x="5" y="23" class="pw"/><use href="#x" x="94" y="23" class="pwo"/>
<circle class="pb" cx="5" cy="35" r="2"/><text x="11" y="36.7">Target</text>
<circle class="pn" cx="5" cy="51" r="1.6"/><text x="11" y="48.7">Parameter Name</text><rect class="vb" x="12" y="51" width="21" height="7" style="stroke:#444"/><text class="v" x="13.5" y="56.2">Sound</text>
<circle class="pg" cx="5" cy="66" r="2"/><text x="11" y="67.7">Value</text>
</g>
<g id="create-dynamic-material-instance" transform="translate(1631 377)">
<rect class="nb" width="115" height="90" rx="3"/><rect width="115" height="15" rx="2" fill="url(#hb)"/>
<use href="#fi" x="4.5" y="4.5"/><text class="h" x="9" y="6">Create Dynamic Material Instance</text>
<text class="sb" x="9" y="12.8">Target is Primitive Component</text>
<use href="#x" x="6" y="23" class="pw"/><use href="#x" x="107" y="23" class="pwo"/>
<circle class="pb" cx="6" cy="35" r="2"/><text x="12" y="36.7">Target</text>
<text class="e" x="102" y="36.7">Return Value</text><circle class="pb" cx="107" cy="35" r="2"/>
<circle class="pto" cx="6" cy="48" r="1.6"/><text x="12" y="49.7">Element Index</text><rect class="vb" x="39" y="44.5" width="7" height="7" style="stroke:#444"/><text class="v" x="40.5" y="49.7">0</text>
<circle class="pbo" cx="6" cy="64.5" r="1.6"/><text x="12" y="61.2">Source Material</text>
<rect class="dd" x="14" y="64.5" width="34" height="7" rx="1"/><text class="vs" x="15.5" y="69.2">Glowing_Material</text><path d="M44 67l1.2 1.2 1.2-1.2" fill="none" stroke="#999" stroke-width=".4"/>
<circle class="ic" cx="52" cy="68" r="1.8"/><circle class="ic" cx="57" cy="67.6" r="1.4"/><path class="ic" d="M58 68.7l1 1"/>
<circle class="pn" cx="6" cy="82" r="1.6"/><text x="12" y="83.7">Optional Name</text><rect class="vb" x="46" y="78.5" width="18" height="7" style="stroke:#444"/><text class="v" x="48" y="83.7">None</text>
</g>
<g id="get-rotating-meshes-3" transform="translate(1563 449)"><rect class="gt" width="56" height="14" rx="6"/><text class="e" x="44" y="8.7">Rotating Meshes</text><circle class="pb" cx="48" cy="7" r="2"/></g>
<g id="get-light" transform="translate(1836 431)"><rect class="gt" width="47" height="14" rx="6"/><text class="e" x="33" y="8.7">Light</text><circle class="pg" cx="38" cy="7" r="2"/></g>
<g id="maprange-light" transform="translate(1893 419)">
<rect class="nb" width="104" height="76" rx="3"/><rect width="104" height="8" rx="2" fill="url(#hg)"/>
<use href="#fi" x="4" y="4"/><text class="h" x="8" y="6">Map Range Clamped</text>
<circle class="pg" cx="7" cy="15" r="2"/><text x="11" y="16.7">Value</text>
<text class="e" x="91" y="16.7">Return Value</text><circle class="pg" cx="95" cy="15" r="2"/>
<circle class="pgo" cx="7" cy="28" r="1.6"/><text x="11" y="29.7">In Range A</text><rect class="vb" x="38" y="24.5" width="11" height="7"/><text class="v" x="39.5" y="29.7">0.0</text>
<circle class="pgo" cx="7" cy="41" r="1.6"/><text x="11" y="42.7">In Range B</text><rect class="vb" x="38" y="37.5" width="14" height="7"/><text class="v" x="39.5" y="42.7">20.0</text>
<circle class="pgo" cx="7" cy="55" r="1.6"/><text x="11" y="56.7">Out Range A</text><rect class="vb" x="41" y="51.5" width="11" height="7"/><text class="v" x="42.5" y="56.7">0.0</text>
<circle class="pgo" cx="7" cy="68" r="1.6"/><text x="11" y="69.7">Out Range B</text><rect class="vb" x="41" y="64.5" width="14" height="7"/><text class="v" x="42.5" y="69.7">20.0</text>
</g>

<g id="event-change-brightness" transform="translate(1605 503)">
<rect class="nb" width="68" height="30" rx="3"/><rect width="68" height="15" rx="2" fill="url(#hr)"/>
<use href="#ei" x="5" y="4.5"/><text class="h" x="9" y="6.2">Change Brightness</text><text class="sr" x="9" y="12.8">Custom Event</text>
<use href="#rsq" x="61" y="7.5"/><use href="#x" x="61" y="23" class="pw"/>
</g>
<g id="set-scalar-brightness" transform="translate(1749 539)">
<rect class="nb" width="108" height="74" rx="3"/><rect width="108" height="15" rx="2" fill="url(#hb)"/>
<use href="#fi" x="4" y="4.5"/><text class="h" x="8" y="6">Set Scalar Parameter Value</text>
<text class="sb" x="8" y="12.8">Target is Material Instance Dynamic</text>
<use href="#x" x="6" y="23" class="pw"/><use href="#x" x="100" y="23" class="pwo"/>
<circle class="pb" cx="6" cy="35" r="2"/><text x="12" y="36.7">Target</text>
<circle class="pn" cx="6" cy="51" r="1.6"/><text x="12" y="48.7">Parameter Name</text><rect class="vb" x="13" y="51" width="31" height="7" style="stroke:#444"/><text class="v" x="14.5" y="56.2">Brightness</text>
<circle class="pg" cx="6" cy="66" r="2"/><text x="12" y="67.7">Value</text>
</g>
<g id="get-brightness" transform="translate(1555 581)"><rect class="gt" width="57" height="15" rx="6"/><text class="e" x="42" y="9.2">Brightness</text><circle class="pg" cx="47" cy="7" r="2"/></g>
<g id="maprange-brightness" transform="translate(1635 606)">
<rect class="nb" width="114" height="76" rx="3"/><rect width="114" height="8" rx="2" fill="url(#hg)"/>
<use href="#fi" x="4" y="4"/><text class="h" x="8" y="6">Map Range Clamped</text>
<circle class="pg" cx="7" cy="15" r="2"/><text x="11" y="16.7">Value</text>
<text class="e" x="101" y="16.7">Return Value</text><circle class="pg" cx="105" cy="15" r="2"/>
<circle class="pgo" cx="7" cy="28" r="1.6"/><text x="11" y="29.7">In Range A</text><rect class="vb" x="38" y="24.5" width="11" height="7"/><text class="v" x="39.5" y="29.7">0.0</text>
<circle class="pgo" cx="7" cy="41" r="1.6"/><text x="11" y="42.7">In Range B</text><rect class="vb" x="38" y="37.5" width="11" height="7"/><text class="v" x="39.5" y="42.7">1.0</text>
<circle class="pgo" cx="7" cy="55" r="1.6"/><text x="11" y="56.7">Out Range A</text><rect class="vb" x="41" y="51.5" width="11" height="7"/><text class="v" x="42.5" y="56.7">0.0</text>
<circle class="pgo" cx="7" cy="68" r="1.6"/><text x="11" y="69.7">Out Range B</text><rect class="vb" x="41" y="64.5" width="19" height="7"/><text class="v" x="42.5" y="69.7">1000.0</text>
</g>

<g id="sequence-2" transform="translate(1377 670)">
<rect class="nb" width="52" height="58" rx="3"/><rect width="52" height="8" rx="2" fill="url(#hk)"/>
<use href="#lp" x="4.5" y="4"/><text class="h" x="8.5" y="6">Sequence</text>
<use href="#x" x="6" y="16" class="pw"/>
<text class="e" x="40" y="17.7">Then 0</text><use href="#x" x="44" y="16" class="pw"/>
<text class="e" x="40" y="29.7">Then 1</text><use href="#x" x="44" y="28" class="pw"/>
<text class="e" x="40" y="41.7">Then 2</text><use href="#x" x="44" y="40" class="pw"/>
<text class="e" x="40" y="55.7">Add pin</text><use href="#ap" x="44.5" y="54"/>
</g>

<g id="event-change-color" transform="translate(1923 624)">
<rect class="nb" width="56" height="29" rx="3"/><rect width="56" height="15" rx="2" fill="url(#hr)"/>
<use href="#ei" x="5" y="4.5"/><text class="h" x="9" y="6.2">Change Color</text><text class="sr" x="9" y="12.8">Custom Event</text>
<use href="#rsq" x="50" y="7.5"/><use href="#x" x="49" y="22" class="pw"/>
</g>
<g id="set-vector-parameter" transform="translate(1995 677)">
<rect class="nb" width="108" height="74" rx="3"/><rect width="108" height="15" rx="2" fill="url(#hb)"/>
<use href="#fi" x="4" y="4.5"/><text class="h" x="8" y="6">Set Vector Parameter Value</text>
<text class="sb" x="8" y="12.8">Target is Material Instance Dynamic</text>
<use href="#x" x="5" y="23" class="pw"/><use href="#x" x="99" y="23" class="pwo"/>
<circle class="pb" cx="6" cy="35" r="2"/><text x="12" y="36.7">Target</text>
<circle class="pn" cx="6" cy="51" r="1.6"/><text x="12" y="48.7">Parameter Name</text><rect class="vb" x="13" y="51" width="18" height="7" style="stroke:#444"/><text class="v" x="14.5" y="56.2">Color</text>
<circle class="pb" cx="6" cy="66" r="2"/><text x="12" y="67.7">Value</text>
</g>

<g id="get-h" transform="translate(1658 725)"><rect class="gt" width="49" height="14" rx="6"/><text class="e" x="35" y="8.7">H</text><circle class="pg" cx="40" cy="7" r="2"/></g>
<g id="maprange-h" transform="translate(1725 726)">
<rect class="nb" width="112" height="76" rx="3"/><rect width="112" height="8" rx="2" fill="url(#hg)"/>
<use href="#fi" x="4" y="4"/><text class="h" x="8" y="6">Map Range Clamped</text>
<circle class="pg" cx="7" cy="15" r="2"/><text x="11" y="16.7">Value</text>
<text class="e" x="99" y="16.7">Return Value</text><circle class="pg" cx="103" cy="15" r="2"/>
<circle class="pgo" cx="7" cy="28" r="1.6"/><text x="11" y="29.7">In Range A</text><rect class="vb" x="38" y="24.5" width="11" height="7"/><text class="v" x="39.5" y="29.7">0.0</text>
<circle class="pgo" cx="7" cy="41" r="1.6"/><text x="11" y="42.7">In Range B</text><rect class="vb" x="38" y="37.5" width="11" height="7"/><text class="v" x="39.5" y="42.7">1.0</text>
<circle class="pgo" cx="7" cy="55" r="1.6"/><text x="11" y="56.7">Out Range A</text><rect class="vb" x="41" y="51.5" width="11" height="7"/><text class="v" x="42.5" y="56.7">0.0</text>
<circle class="pgo" cx="7" cy="68" r="1.6"/><text x="11" y="69.7">Out Range B</text><rect class="vb" x="41" y="64.5" width="16" height="7"/><text class="v" x="42.5" y="69.7">360.0</text>
</g>
<g id="hsv-to-rgb" transform="translate(1869 768)">
<rect class="nb" width="80" height="59" rx="3"/><rect width="80" height="8" rx="2" fill="url(#hg)"/>
<use href="#fi" x="4" y="4"/><text class="h" x="8" y="6">HSV to RGB</text>
<circle class="pg" cx="6.5" cy="15" r="2"/><text x="12" y="16.7">H</text>
<circle class="pg" cx="6.5" cy="27" r="2"/><text x="12" y="28.7">S</text>
<circle class="pg" cx="6.5" cy="39" r="2"/><text x="12" y="40.7">V</text>
<circle class="pgo" cx="6.5" cy="52" r="1.6"/><text x="12" y="53.7">A</text><rect class="vb" x="16" y="48.5" width="9" height="7" style="stroke:#444"/><text class="v" x="17" y="53.7">1.0</text>
<text class="e" x="68" y="16.7">Return Value</text><circle class="pb" cx="72.5" cy="15" r="2"/>
</g>
<g id="get-s" transform="translate(1647 803)"><rect class="gt" width="48" height="14" rx="6"/><text class="e" x="34" y="8.7">S</text><circle class="pg" cx="39" cy="7" r="2"/></g>
<g id="maprange-s" transform="translate(1725 809)">
<rect class="nb" width="106" height="76" rx="3"/><rect width="106" height="8" rx="2" fill="url(#hg)"/>
<use href="#fi" x="4" y="4"/><text class="h" x="8" y="6">Map Range Clamped</text>
<circle class="pg" cx="7" cy="15" r="2"/><text x="11" y="16.7">Value</text>
<text class="e" x="93" y="16.7">Return Value</text><circle class="pg" cx="97" cy="15" r="2"/>
<circle class="pgo" cx="7" cy="28" r="1.6"/><text x="11" y="29.7">In Range A</text><rect class="vb" x="38" y="24.5" width="11" height="7"/><text class="v" x="39.5" y="29.7">0.0</text>
<circle class="pgo" cx="7" cy="41" r="1.6"/><text x="11" y="42.7">In Range B</text><rect class="vb" x="38" y="37.5" width="11" height="7"/><text class="v" x="39.5" y="42.7">1.0</text>
<circle class="pgo" cx="7" cy="55" r="1.6"/><text x="11" y="56.7">Out Range A</text><rect class="vb" x="41" y="51.5" width="11" height="7"/><text class="v" x="42.5" y="56.7">0.0</text>
<circle class="pgo" cx="7" cy="68" r="1.6"/><text x="11" y="69.7">Out Range B</text><rect class="vb" x="41" y="64.5" width="11" height="7"/><text class="v" x="42.5" y="69.7">1.0</text>
</g>
<g id="get-v" transform="translate(1653 893)"><rect class="gt" width="49" height="14" rx="6"/><text class="e" x="35" y="8.7">V</text><circle class="pg" cx="40" cy="7" r="2"/></g>
<g id="maprange-v" transform="translate(1725 893)">
<rect class="nb" width="106" height="76" rx="3"/><rect width="106" height="8" rx="2" fill="url(#hg)"/>
<use href="#fi" x="4" y="4"/><text class="h" x="8" y="6">Map Range Clamped</text>
<circle class="pg" cx="7" cy="15" r="2"/><text x="11" y="16.7">Value</text>
<text class="e" x="93" y="16.7">Return Value</text><circle class="pg" cx="97" cy="15" r="2"/>
<circle class="pgo" cx="7" cy="28" r="1.6"/><text x="11" y="29.7">In Range A</text><rect class="vb" x="38" y="24.5" width="11" height="7"/><text class="v" x="39.5" y="29.7">0.0</text>
<circle class="pgo" cx="7" cy="41" r="1.6"/><text x="11" y="42.7">In Range B</text><rect class="vb" x="38" y="37.5" width="11" height="7"/><text class="v" x="39.5" y="42.7">1.0</text>
<circle class="pgo" cx="7" cy="55" r="1.6"/><text x="11" y="56.7">Out Range A</text><rect class="vb" x="41" y="51.5" width="11" height="7"/><text class="v" x="42.5" y="56.7">0.0</text>
<circle class="pgo" cx="7" cy="68" r="1.6"/><text x="11" y="69.7">Out Range B</text><rect class="vb" x="41" y="64.5" width="11" height="7"/><text class="v" x="42.5" y="69.7">1.0</text>
</g>

<!-- ===== mesh switch events ===== -->
<g id="event-squares" transform="translate(92 742)">
<rect class="nb sel" width="58" height="31" rx="3"/><rect x=".8" y=".8" width="56.4" height="15" rx="2" fill="url(#hr)"/>
<use href="#ei" x="5" y="5"/><text class="h" x="9" y="6.7">Squares</text><text class="sr" x="9" y="13.3">Custom Event</text>
<use href="#rsq" x="52" y="8.5"/><use href="#x" x="50" y="23.5" class="pw"/>
</g>
<g id="set-static-mesh-1" transform="translate(176 736)">
<rect class="nb sel" width="111" height="65" rx="3"/><rect x=".8" y=".8" width="109.4" height="15" rx="2" fill="url(#hb)"/>
<use href="#fi" x="5" y="5"/><text class="h" x="9" y="6.7">Set Static Mesh</text>
<text class="sb" x="9" y="13.3">Target is Static Mesh Component</text>
<use href="#x" x="7" y="24" class="pw"/><use href="#x" x="102" y="24" class="pwo"/>
<circle class="pb" cx="7" cy="36" r="2"/><text x="13" y="37.7">Target</text>
<text class="e" x="97" y="37.7">Return Value</text><circle class="pro" cx="102" cy="36" r="1.6"/>
<circle class="pbo" cx="7" cy="52" r="1.7"/><text x="13" y="48.7">New Mesh</text>
<rect class="dd" x="16" y="51.5" width="25" height="7" rx="1"/><text class="vs" x="17.3" y="56.2">Sp_Square</text>
<circle class="ic" cx="46" cy="55" r="1.7"/><circle class="ic" cx="51" cy="54.6" r="1.3"/>
</g>
<g id="get-rotating-meshes-4" transform="translate(97 790)"><rect class="gt sel" width="63" height="16" rx="6"/><text class="e" x="48" y="9.7">Rotating Meshes</text><circle class="pb" cx="52" cy="8" r="2"/></g>

<g id="event-rings" transform="translate(92 827)">
<rect class="nb sel" width="58" height="30" rx="3"/><rect x=".8" y=".8" width="56.4" height="15" rx="2" fill="url(#hr)"/>
<use href="#ei" x="5" y="5"/><text class="h" x="9" y="6.7">Rings</text><text class="sr" x="9" y="13.3">Custom Event</text>
<use href="#rsq" x="52" y="8.5"/><use href="#x" x="50" y="23" class="pw"/>
</g>
<g id="set-static-mesh-2" transform="translate(176 837)">
<rect class="nb sel" width="109" height="66" rx="3"/><rect x=".8" y=".8" width="107.4" height="15" rx="2" fill="url(#hb)"/>
<use href="#fi" x="5" y="5"/><text class="h" x="9" y="6.7">Set Static Mesh</text>
<text class="sb" x="9" y="13.3">Target is Static Mesh Component</text>
<use href="#x" x="7" y="25" class="pw"/><use href="#x" x="101" y="25" class="pwo"/>
<circle class="pb" cx="7" cy="37" r="2"/><text x="13" y="38.7">Target</text>
<text class="e" x="95" y="38.7">Return Value</text><circle class="pro" cx="100" cy="37" r="1.6"/>
<circle class="pbo" cx="7" cy="53" r="1.7"/><text x="13" y="49.7">New Mesh</text>
<rect class="dd" x="16" y="52.5" width="23" height="7" rx="1"/><text class="vs" x="17.3" y="57.2">Sp_Ring</text>
<circle class="ic" cx="44" cy="56" r="1.7"/><circle class="ic" cx="49" cy="55.6" r="1.3"/>
</g>
<g id="get-rotating-meshes-5" transform="translate(86 881)"><rect class="gt sel" width="62" height="15" rx="6"/><text class="e" x="47" y="9.2">Rotating Meshes</text><circle class="pb" cx="52" cy="7.5" r="2"/></g>

<g id="event-triangle" transform="translate(92 922)">
<rect class="nb sel" width="58" height="31" rx="3"/><rect x=".8" y=".8" width="56.4" height="15" rx="2" fill="url(#hr)"/>
<use href="#ei" x="5" y="5"/><text class="h" x="9" y="6.7">Triangle</text><text class="sr" x="9" y="13.3">Custom Event</text>
<use href="#rsq" x="52" y="8.5"/><use href="#x" x="50" y="24" class="pw"/>
</g>
<g id="set-static-mesh-3" transform="translate(169 934)">
<rect class="nb sel" width="105" height="64" rx="3"/><rect x=".8" y=".8" width="103.4" height="15" rx="2" fill="url(#hb)"/>
<use href="#fi" x="5" y="5"/><text class="h" x="9" y="6.7">Set Static Mesh</text>
<text class="sb" x="9" y="13.3">Target is Static Mesh Component</text>
<use href="#x" x="8" y="24" class="pw"/><use href="#x" x="97" y="24" class="pwo"/>
<circle class="pb" cx="8" cy="36" r="2"/><text x="14" y="37.7">Target</text>
<text class="e" x="91" y="37.7">Return Value</text><circle class="pro" cx="96" cy="36" r="1.6"/>
<circle class="pbo" cx="8" cy="52" r="1.7"/><text x="14" y="48.7">New Mesh</text>
<rect class="dd" x="16" y="51.5" width="20" height="7" rx="1"/><text class="vs" x="17.3" y="56.2">Sp_Tri</text>
<circle class="ic" cx="41" cy="55" r="1.7"/><circle class="ic" cx="46" cy="54.6" r="1.3"/>
</g>
<g id="get-rotating-meshes-6" transform="translate(86 970)"><rect class="gt sel" width="62" height="16" rx="6"/><text class="e" x="47" y="9.7">Rotating Meshes</text><circle class="pb" cx="52" cy="8" r="2"/></g>

<!-- ===== begin play ===== -->
<g id="event-begin-play" transform="translate(470 852)">
<rect class="nb" width="62" height="22" rx="3"/><rect width="62" height="8" rx="2" fill="url(#hr)"/>
<use href="#ei" x="5" y="4"/><text class="h" x="9" y="6">Event BeginPlay</text>
<use href="#rsq" x="56" y="4"/><use href="#x" x="55" y="16" class="pw"/>
</g>
<g id="sequence-1" transform="translate(561 857)">
<rect class="nb" width="51" height="58" rx="3"/><rect width="51" height="8" rx="2" fill="url(#hk)"/>
<use href="#lp" x="4.5" y="4"/><text class="h" x="8.5" y="6">Sequence</text>
<use href="#x" x="6" y="16" class="pw"/>
<text class="e" x="39" y="17.7">Then 0</text><use href="#x" x="43" y="16" class="pw"/>
<text class="e" x="39" y="29.7">Then 1</text><use href="#x" x="43" y="28" class="pw"/>
<text class="e" x="39" y="41.7">Then 2</text><use href="#x" x="43" y="40" class="pw"/>
<text class="e" x="39" y="55.7">Add pin</text><use href="#ap" x="43.5" y="54"/>
</g>
<g id="event-shell-off" transform="translate(411 1056)">
<rect class="nb" width="56" height="29" rx="3"/><rect width="56" height="15" rx="2" fill="url(#hr)"/>
<use href="#ei" x="5" y="4.5"/><text class="h" x="9" y="6.2">Shell_OFF</text><text class="sr" x="9" y="12.8">Custom Event</text>
<use href="#rsq" x="50" y="7.5"/><use href="#x" x="49" y="22" class="pw"/>
</g>
<g id="set-actor-hidden-in-game" transform="translate(519 1061)">
<rect class="nb" width="83" height="56" rx="3"/><rect width="83" height="15" rx="2" fill="url(#hb)"/>
<use href="#fi" x="4" y="4.5"/><text class="h" x="8" y="6">Set Actor Hidden In Game</text>
<text class="sb" x="8" y="12.8">Target is Actor</text>
<use href="#x" x="6" y="23" class="pw"/><use href="#x" x="75" y="23" class="pwo"/>
<circle class="pbo" cx="6" cy="36" r="1.6"/><text x="12" y="37.7">Target</text><text class="g" x="30" y="37.7">self</text><path d="M38 33.5v5" stroke="#555" stroke-width=".5"/>
<circle class="pr" cx="6" cy="48" r="2"/><text x="12" y="49.7">New Hidden</text>
</g>
<g id="get-shell-on" transform="translate(417 1103)"><rect class="gt" width="48" height="14" rx="6"/><text class="e" x="35" y="8.7">Shell On</text><circle class="pr" cx="39" cy="7" r="2"/></g>

<!-- ===== update elements ===== -->
<g id="event-update-elements" transform="translate(873 1007)">
<rect class="nb" width="64" height="30" rx="3"/><rect width="64" height="15" rx="2" fill="url(#hr)"/>
<use href="#ei" x="5" y="4.5"/><text class="h" x="9" y="6.2">Update Elements</text><text class="sr" x="9" y="12.8">Custom Event</text>
<use href="#rsq" x="58" y="7.5"/><use href="#x" x="56" y="23" class="pw"/>
</g>
<g id="array-clear" transform="translate(1017 1019)">
<rect class="cn" width="61" height="28" rx="3"/>
<use href="#tsq" x="18" y="1.8"/><use href="#tsq" x="28" y="1.8"/><use href="#tsq" x="38" y="1.8"/>
<use href="#tsq" x="18" y="20.5"/><use href="#tsq" x="28" y="20.5"/><use href="#tsq" x="38" y="20.5"/>
<text class="big" x="31" y="18.3">CLEAR</text>
<use href="#x" x="6" y="10" class="pw"/><use href="#x" x="53" y="10" class="pw"/>
<use href="#arr" x="6" y="21"/>
</g>
<g id="get-rotating-elements-2" transform="translate(944 1049)"><rect class="gt" width="63" height="14" rx="6"/><text class="e" x="51" y="8.7">Rotating Elements</text><use href="#sq" x="55" y="7"/></g>
<g id="clear-instances" transform="translate(1119 1037)">
<rect class="nb" width="126" height="42" rx="3"/><rect width="126" height="15" rx="2" fill="url(#hb)"/>
<use href="#fi" x="4" y="4.5"/><text class="h" x="8" y="6">Clear Instances</text>
<text class="sb" x="8" y="12.8">Target is Instanced Static Mesh Component</text>
<use href="#x" x="5.5" y="23" class="pw"/><use href="#x" x="119" y="23" class="pw"/>
<circle class="pb" cx="5.5" cy="35" r="2"/><text x="11" y="36.7">Target</text>
</g>
<g id="get-rotating-meshes-7" transform="translate(1041 1073)"><rect class="gt" width="59" height="14" rx="6"/><text class="e" x="47" y="8.7">Rotating Meshes</text><circle class="pb" cx="51" cy="7" r="2"/></g>
<g id="get-amount" transform="translate(1035 1112)"><rect class="gt" width="48" height="14" rx="6"/><text class="e" x="34" y="8.7">Amount</text><circle class="pg" cx="38" cy="7" r="2"/></g>
<g id="maprange-amount" transform="translate(1089 1104)">
<rect class="nb" width="109" height="76" rx="3"/><rect width="109" height="8" rx="2" fill="url(#hg)"/>
<use href="#fi" x="4" y="4"/><text class="h" x="8" y="6">Map Range Clamped</text>
<circle class="pg" cx="7" cy="15" r="2"/><text x="11" y="16.7">Value</text>
<text class="e" x="96" y="16.7">Return Value</text><circle class="pg" cx="100" cy="15" r="2"/>
<circle class="pgo" cx="7" cy="28" r="1.6"/><text x="11" y="29.7">In Range A</text><rect class="vb" x="38" y="24.5" width="11" height="7"/><text class="v" x="39.5" y="29.7">0.0</text>
<circle class="pgo" cx="7" cy="41" r="1.6"/><text x="11" y="42.7">In Range B</text><rect class="vb" x="38" y="37.5" width="11" height="7"/><text class="v" x="39.5" y="42.7">1.0</text>
<circle class="pgo" cx="7" cy="55" r="1.6"/><text x="11" y="56.7">Out Range A</text><rect class="vb" x="41" y="51.5" width="11" height="7"/><text class="v" x="42.5" y="56.7">0.0</text>
<circle class="pgo" cx="7" cy="68" r="1.6"/><text x="11" y="69.7">Out Range B</text><rect class="vb" x="41" y="64.5" width="14" height="7"/><text class="v" x="42.5" y="69.7">10.0</text>
</g>
<g id="truncate" transform="translate(1203 1104)">
<rect class="nb" width="69" height="21" rx="3"/><rect width="69" height="8" rx="2" fill="url(#hg)"/>
<use href="#fi" x="4" y="4"/><text class="h" x="8" y="6">Truncate</text>
<circle class="pg" cx="6" cy="15" r="2"/><text x="11" y="16.7">A</text>
<text class="e" x="56" y="16.7">Return Value</text><circle class="pt" cx="61" cy="15" r="2"/>
</g>
<g id="for-loop" transform="translate(1293 1044)">
<rect class="nb" width="92" height="48" rx="3"/><rect width="92" height="8" rx="2" fill="url(#hk)"/>
<use href="#lp" x="4.5" y="4"/><text class="h" x="8.5" y="6">For Loop</text>
<use href="#x" x="6" y="16" class="pw"/>
<text class="e" x="79" y="17.7">Loop Body</text><use href="#x" x="85" y="16" class="pw"/>
<circle class="pto" cx="6" cy="28" r="1.6"/><text x="11" y="29.7">First Index</text><rect class="vb" x="37" y="24.5" width="8" height="7" style="stroke:#444"/><text class="v" x="39.5" y="29.7">1</text>
<text class="e" x="79" y="29.7">Index</text><circle class="pto" cx="84" cy="28" r="1.6"/>
<circle class="pt" cx="6" cy="41" r="2"/><text x="11" y="42.7">Last Index</text>
<text class="e" x="79" y="42.7">Completed</text><use href="#x" x="85" y="41" class="pwo"/>
</g>
<g id="get-rotating-meshes-8" transform="translate(1323 1105)"><rect class="gt" width="59" height="14" rx="6"/><text class="e" x="47" y="8.7">Rotating Meshes</text><circle class="pb" cx="51" cy="7" r="2"/></g>
<g id="add-instance" transform="translate(1401 1037)">
<rect class="nb" width="134" height="117" rx="3"/><rect width="134" height="15" rx="2" fill="url(#hb)"/>
<use href="#fi" x="4" y="4.5"/><text class="h" x="8" y="6">Add Instance</text>
<text class="sb" x="8" y="12.8">Target is Instanced Static Mesh Component</text>
<use href="#x" x="6" y="23" class="pw"/><use href="#x" x="126" y="23" class="pw"/>
<circle class="pb" cx="6" cy="35" r="2"/><text x="12" y="36.7">Target</text>
<text class="e" x="120" y="36.7">Return Value</text><circle class="pt" cx="125" cy="35" r="2"/>
<circle class="po" cx="6" cy="51" r="1.6" style="fill:none;stroke:#f2a51c;stroke-width:.8"/><text x="12" y="48.7">Instance Transform Location</text>
<text class="g" x="16" y="55.7">X</text><text class="v" x="20.5" y="55.7">0.0</text><path d="M29 51.5v5" stroke="#888" stroke-width=".5"/><text class="g" x="31" y="55.7">Y</text><text class="v" x="35" y="55.7">0.0</text><path d="M43.5 51.5v5" stroke="#888" stroke-width=".5"/><text class="g" x="46" y="55.7">Z</text><text class="v" x="50" y="55.7">0.0</text>
<circle class="pbo" cx="6" cy="72" r="1.6"/><text x="12" y="69.7">Instance Transform Rotation</text>
<text class="g" x="16" y="76.7">X</text><text class="v" x="20.5" y="76.7">0.0</text><path d="M29 72.5v5" stroke="#888" stroke-width=".5"/><text class="g" x="31" y="76.7">Y</text><text class="v" x="35" y="76.7">0.0</text><path d="M43.5 72.5v5" stroke="#888" stroke-width=".5"/><text class="g" x="46" y="76.7">Z</text><text class="v" x="50" y="76.7">0.0</text>
<circle class="pyo" cx="6" cy="93" r="1.6"/><text x="12" y="90.7">Instance Transform Scale</text>
<text class="g" x="16" y="97.7">X</text><text class="v" x="20.5" y="97.7">0.0</text><path d="M29 93.5v5" stroke="#888" stroke-width=".5"/><text class="g" x="31" y="97.7">Y</text><text class="v" x="35" y="97.7">0.0</text><path d="M43.5 93.5v5" stroke="#888" stroke-width=".5"/><text class="g" x="46" y="97.7">Z</text><text class="v" x="50" y="97.7">0.0</text>
<circle class="pro" cx="6" cy="110" r="1.6"/><text x="12" y="111.7">World Space</text><rect class="cb" x="41" y="107" width="6" height="6"/>
</g>
<g id="array-add" transform="translate(1599 1049)">
<rect class="cn" width="50" height="37" rx="3"/>
<use href="#tsq" x="10.5" y="5"/><use href="#tsq" x="22" y="5"/><use href="#tsq" x="32.5" y="5"/>
<use href="#tsq" x="10.5" y="26"/><use href="#tsq" x="22" y="26"/><use href="#tsq" x="32.5" y="26"/>
<text class="big" x="25" y="22.5">ADD</text>
<use href="#x" x="6" y="10" class="pw"/><use href="#x" x="43.5" y="10" class="pwo"/>
<use href="#arr" x="6" y="21"/><circle class="pto" cx="43.5" cy="21" r="1.6"/>
<circle class="pt" cx="6" cy="31" r="2"/>
</g>
<g id="get-rotating-elements-3" transform="translate(1527 1103)"><rect class="gt" width="60" height="14" rx="6"/><text class="e" x="50" y="8.7">Rotating Elements</text><use href="#sq" x="54" y="7"/></g>
</svg>
